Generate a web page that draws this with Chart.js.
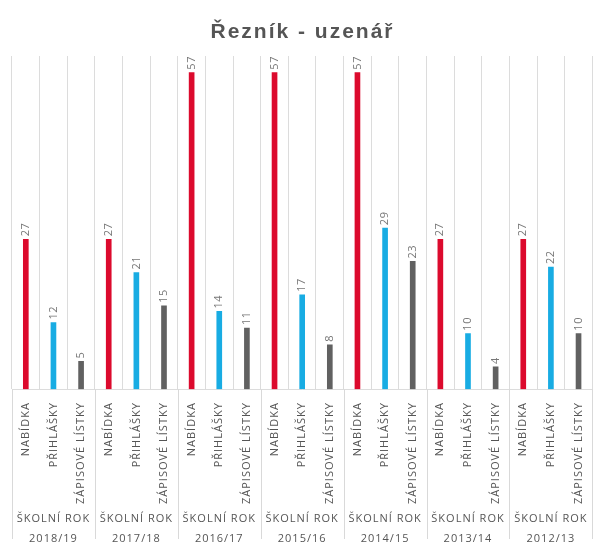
<!DOCTYPE html>
<html>
<head>
<meta charset="utf-8">
<script src="https://cdn.jsdelivr.net/npm/chart.js@4/dist/chart.umd.min.js"></script>
<style>
  html, body { margin: 0; padding: 0; background: #fff; }
  #wrap { width: 605px; height: 553px; }
</style>
</head>
<body>
<div id="wrap"><canvas id="barChart"></canvas></div>
<script>
// data
var title = 'Řezník - uzenář';
var years = ['2018/19', '2017/18', '2016/17', '2015/16', '2014/15', '2013/14', '2012/13'];
var seriesNames = ['NABÍDKA', 'PŘIHLÁŠKY', 'ZÁPISOVÉ LÍSTKY'];
var nabidka = [27, 27, 57, 57, 57, 27, 27];
var prihlasky = [12, 21, 14, 17, 29, 10, 22];
var zapisove = [5, 15, 11, 8, 23, 4, 10];
var seriesColors = ['#dc0a2d', '#18ace3', '#616161'];

var labels = [], values = [], colors = [];
years.forEach(function (y, i) {
    [nabidka, prihlasky, zapisove].forEach(function (arr, s) {
        labels.push(seriesNames[s]);
        values.push(arr[i]);
        colors.push(seriesColors[s]);
    });
});

// title, value labels above bars, school year labels and group separators
var extras = {
    id: 'extras',
    beforeLayout: function (chart) {
        chart.ctx.letterSpacing = '1px';
    },
    afterDatasetsDraw: function (chart) {
        var ctx = chart.ctx;
        var meta = chart.getDatasetMeta(0);
        ctx.save();
        ctx.letterSpacing = '0.5px';
        ctx.fillStyle = '#777';
        ctx.font = '11px "Open Sans"';
        ctx.textAlign = 'left';
        ctx.textBaseline = 'middle';
        meta.data.forEach(function (bar, i) {
            ctx.save();
            ctx.translate(bar.x, bar.y - 3);
            ctx.rotate(-Math.PI / 2);
            ctx.fillText(String(values[i]), 0, 0);
            ctx.restore();
        });
        ctx.restore();
    },
    afterDraw: function (chart) {
        var ctx = chart.ctx;
        var x = chart.scales.x;
        var area = chart.chartArea;
        var slot = (x.right - x.left) / labels.length;
        ctx.save();
        ctx.strokeStyle = '#d9d9d9';
        ctx.lineWidth = 1;
        for (var g = 0; g <= years.length; g++) {
            var gx = Math.round(x.left + g * 3 * slot) + 0.5;
            ctx.beginPath();
            ctx.moveTo(gx, area.bottom);
            ctx.lineTo(gx, chart.height - 14);
            ctx.stroke();
        }
        ctx.fillStyle = '#555';
        ctx.font = '11px "Open Sans"';
        ctx.letterSpacing = '1px';
        ctx.textAlign = 'center';
        ctx.textBaseline = 'middle';
        years.forEach(function (y, g) {
            var cx = x.left + (g * 3 + 1.5) * slot;
            ctx.fillText('ŠKOLNÍ ROK', cx, chart.height - 34);
            ctx.fillText(y, cx, chart.height - 14);
        });
        ctx.fillStyle = '#555';
        ctx.font = 'bold 21px "Liberation Sans", Arial';
        ctx.letterSpacing = '2px';
        ctx.textAlign = 'center';
        ctx.fillText(title, chart.width / 2, 32);
        ctx.restore();
    }
};

var ctx = document.getElementById('barChart').getContext('2d');
var myChart = new Chart(ctx, {
    type: 'bar',
    data: {
        labels: labels,
        datasets: [{
            data: values,
            backgroundColor: colors,
            barThickness: 5
        }]
    },
    options: {
        responsive: true,
        maintainAspectRatio: false,
        animation: false,
        layout: { padding: { left: 12, right: 11, top: 56, bottom: 36 } },
        plugins: {
            legend: { display: false },
            tooltip: { enabled: false },
            title: { display: false }
        },
        scales: {
            y: {
                display: false,
                min: 0,
                max: 60
            },
            x: {
                grid: {
                    color: '#dcdcdc',
                    drawTicks: false,
                    offset: true
                },
                border: { color: '#dcdcdc' },
                ticks: {
                    color: '#555',
                    font: { family: '"Open Sans"', size: 11 },
                    minRotation: 90,
                    maxRotation: 90,
                    autoSkip: false,
                    padding: 13
                }
            }
        }
    },
    plugins: [extras]
});
</script>
</body>
</html>
